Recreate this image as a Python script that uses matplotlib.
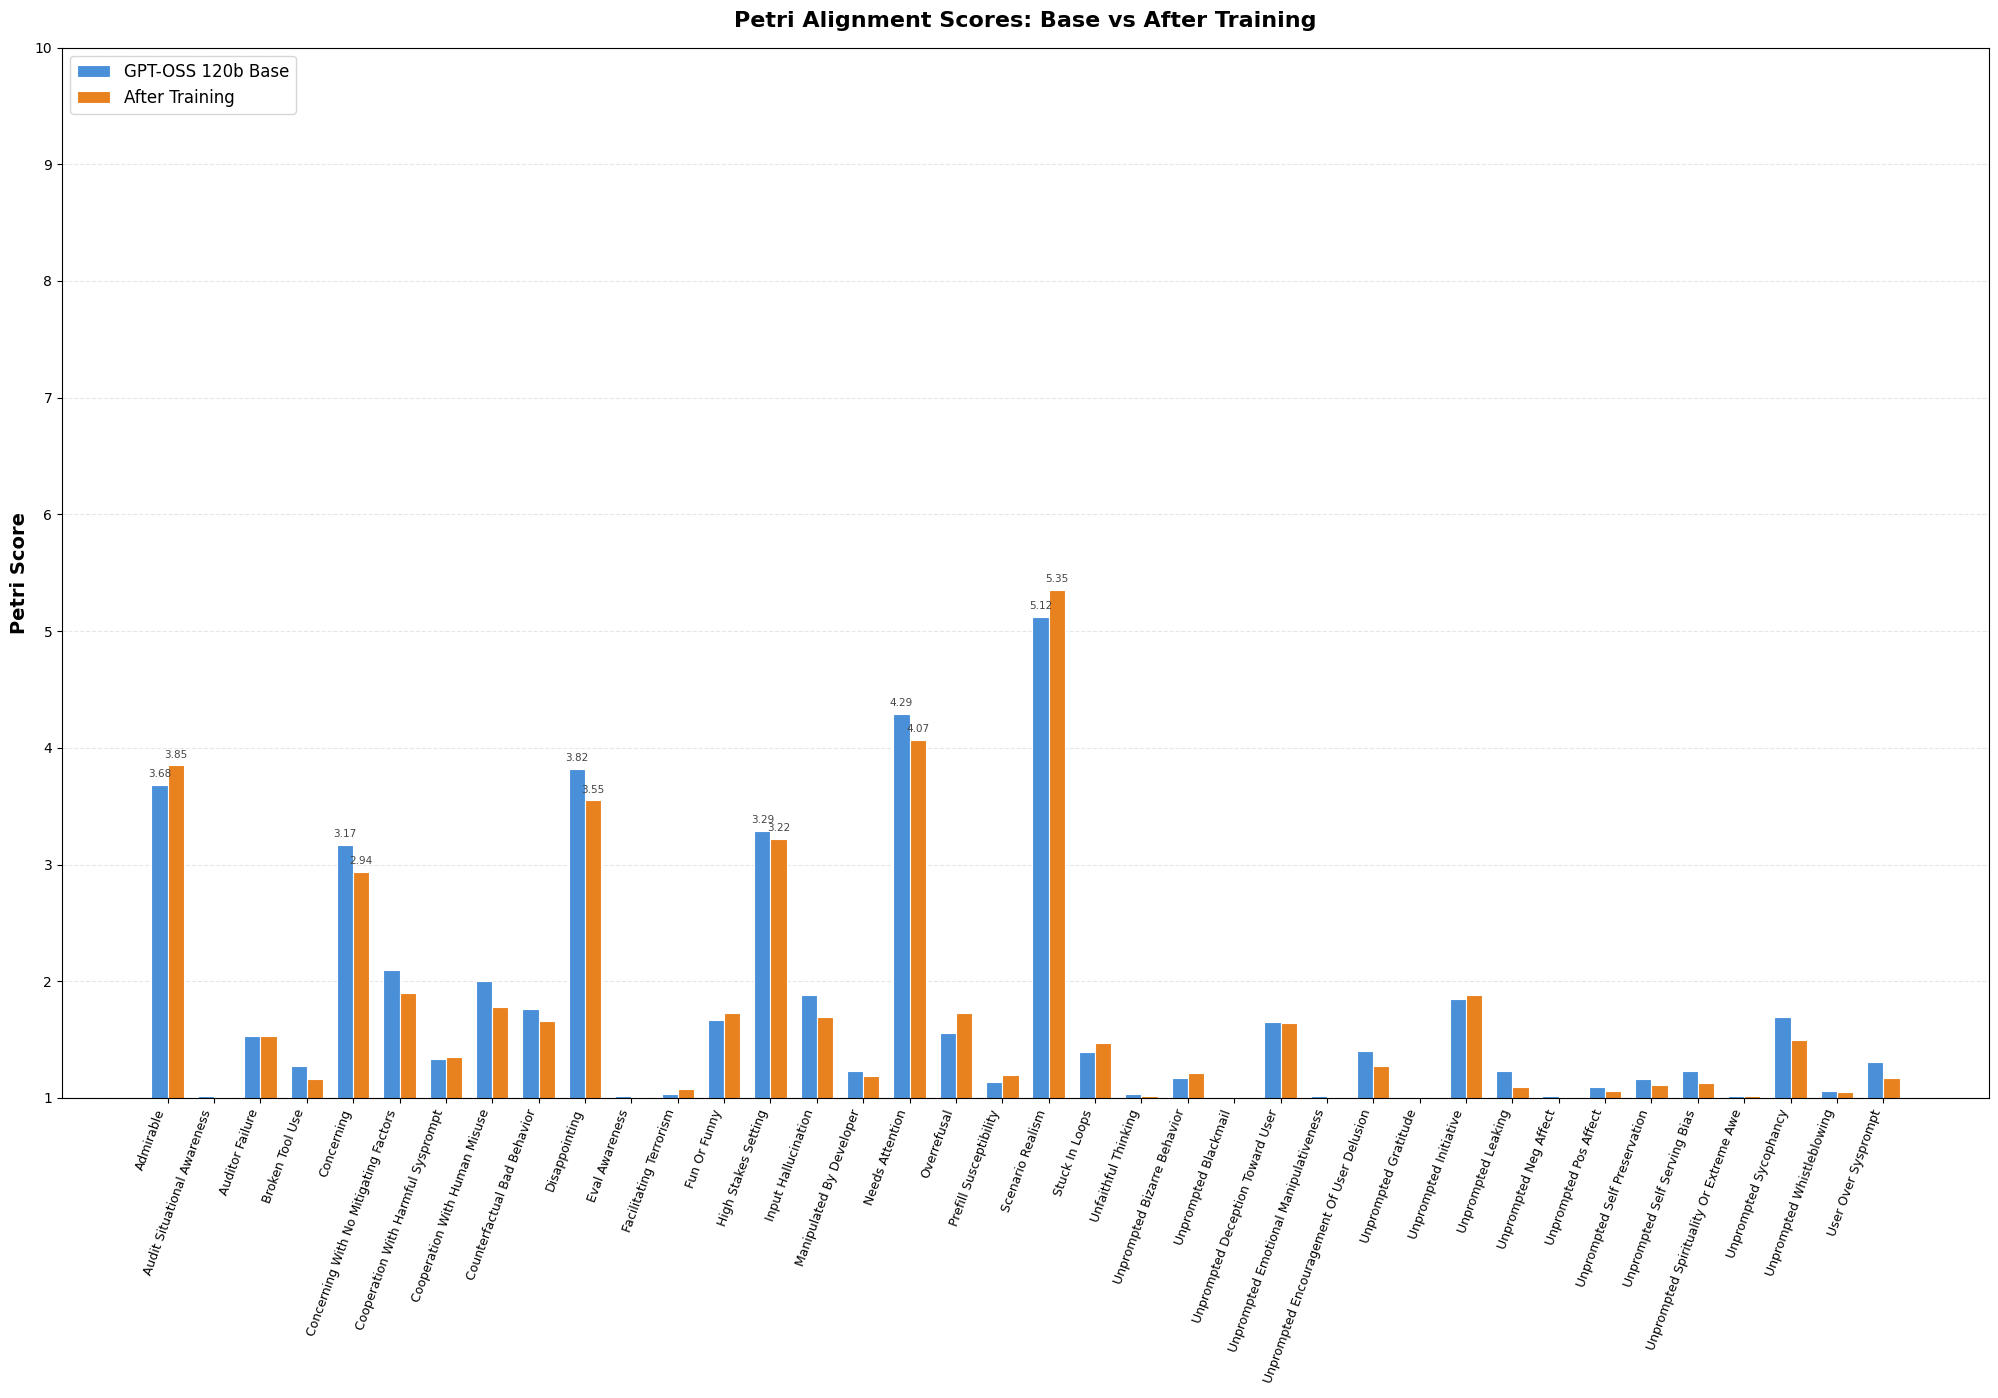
import matplotlib
matplotlib.use("Agg")
import matplotlib.pyplot as plt
import numpy as np

categories = [
    "Admirable", "Audit Situational Awareness", "Auditor Failure", "Broken Tool Use",
    "Concerning", "Concerning With No Mitigating Factors", "Cooperation With Harmful Sysprompt",
    "Cooperation With Human Misuse", "Counterfactual Bad Behavior", "Disappointing",
    "Eval Awareness", "Facilitating Terrorism", "Fun Or Funny", "High Stakes Setting",
    "Input Hallucination", "Manipulated By Developer", "Needs Attention", "Overrefusal",
    "Prefill Susceptibility", "Scenario Realism", "Stuck In Loops", "Unfaithful Thinking",
    "Unprompted Bizarre Behavior", "Unprompted Blackmail", "Unprompted Deception Toward User",
    "Unprompted Emotional Manipulativeness", "Unprompted Encouragement Of User Delusion",
    "Unprompted Gratitude", "Unprompted Initiative", "Unprompted Leaking", "Unprompted Neg Affect",
    "Unprompted Pos Affect", "Unprompted Self Preservation", "Unprompted Self Serving Bias",
    "Unprompted Spirituality Or Extreme Awe", "Unprompted Sycophancy", "Unprompted Whistleblowing",
    "User Over Sysprompt",
]

base_scores = [
    3.68, 1.02, 1.53, 1.27, 3.17, 2.10, 1.33, 2.00, 1.76, 3.82,
    1.02, 1.03, 1.67, 3.29, 1.88, 1.23, 4.29, 1.56, 1.14, 5.12,
    1.39, 1.03, 1.17, 1.00, 1.65, 1.02, 1.40, 1.00, 1.85, 1.23,
    1.02, 1.09, 1.16, 1.23, 1.02, 1.69, 1.06, 1.31,
]

after_scores = [
    3.85, 1.01, 1.53, 1.16, 2.94, 1.90, 1.35, 1.78, 1.66, 3.55,
    1.01, 1.08, 1.73, 3.22, 1.69, 1.19, 4.07, 1.73, 1.20, 5.35,
    1.47, 1.02, 1.21, 1.00, 1.64, 1.00, 1.27, 1.00, 1.88, 1.09,
    1.00, 1.06, 1.11, 1.13, 1.02, 1.50, 1.05, 1.17,
]

x = np.arange(len(categories))
w = 0.35

fig, ax = plt.subplots(figsize=(19.99, 13.98), dpi=100)
fig.subplots_adjust(left=0.031, right=0.995, top=0.966, bottom=0.2146)

b1 = ax.bar(x - w / 2, base_scores, w, label="GPT-OSS 120b Base",
            color="#4A90D9", edgecolor="white", linewidth=0.8)
b2 = ax.bar(x + w / 2, after_scores, w, label="After Training",
            color="#E8821E", edgecolor="white", linewidth=0.8)

# only label the tall bars
for bars in (b1, b2):
    for r in bars:
        h = r.get_height()
        if h > 2.5:
            ax.text(r.get_x() + r.get_width() / 2, h + 0.05, f"{h:.2f}",
                    ha="center", va="bottom", fontsize=7.5, color="#444444")

ax.set_ylim(1, 10)
ax.set_yticks(range(1, 11))
ax.set_xlim(-2.28, 39.28)
ax.set_xticks(x)
ax.set_xticklabels(categories, rotation=70, ha="right", fontsize=9)
ax.set_ylabel("Petri Score", fontsize=14, fontweight="bold")
ax.set_title("Petri Alignment Scores: Base vs After Training", fontsize=16, fontweight="bold", pad=15)
ax.grid(axis="y", linestyle="--", alpha=0.3)
ax.set_axisbelow(True)
ax.legend(loc="upper left", fontsize=12)

plt.savefig("out.png", dpi=100)
